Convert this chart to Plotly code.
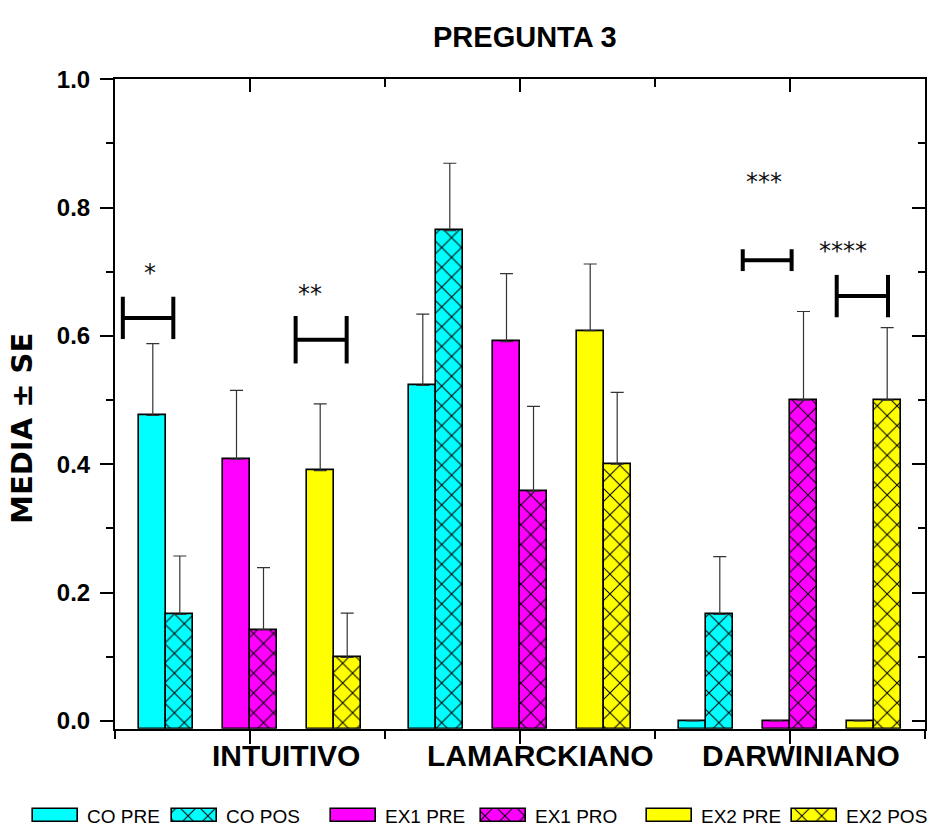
import plotly.graph_objects as go

# ---------------- data ----------------
categories = ["INTUITIVO", "LAMARCKIANO", "DARWINIANO"]
series_names = ["CO PRE", "CO POS", "EX1 PRE", "EX1 PRO", "EX2 PRE", "EX2 POS"]
co_pre = [0.476, 0.523, 0.0]
co_pos = [0.166, 0.764, 0.166]
ex1_pre = [0.408, 0.591, 0.0]
ex1_pro = [0.142, 0.358, 0.500]
ex2_pre = [0.390, 0.608, 0.0]
ex2_pos = [0.099, 0.400, 0.500]
co_pre_se = [0.112, 0.111, 0.0]
co_pos_se = [0.091, 0.105, 0.090]
ex1_pre_se = [0.107, 0.106, 0.0]
ex1_pro_se = [0.097, 0.132, 0.138]
ex2_pre_se = [0.104, 0.104, 0.0]
ex2_pos_se = [0.069, 0.112, 0.113]
y_ticks = [0.0, 0.2, 0.4, 0.6, 0.8, 1.0]

# significance brackets (x in category units, y in data units)
sig_labels = ["*", "**", "***", "****"]
sig_x0 = [-0.471, 0.169, 1.825, 2.173]
sig_x1 = [-0.284, 0.358, 2.006, 2.363]
sig_y = [0.628, 0.594, 0.718, 0.662]
sig_half = [0.033, 0.037, 0.017, 0.033]
sig_label_x = [-0.37, 0.222, 1.905, 2.196]
sig_label_y = [0.698, 0.665, 0.839, 0.732]

# ---------------- style / layout ----------------
W, H = 935, 838
PLOT_L, PLOT_R, PLOT_T, PLOT_B = 115, 925, 66.7, 731.3
YMIN, YMAX = -0.0122, 1.0
colors = ["#00FFFF", "#00FFFF", "#FF00FF", "#FF00FF", "#FFFF00", "#FFFF00"]
hatched = [False, True, False, True, False, True]
offsets = [-0.41, -0.31, -0.10, 0.0, 0.21, 0.31]
BAR_W = 0.1
FONT = "Liberation Sans, Arial, sans-serif"

values = [co_pre, co_pos, ex1_pre, ex1_pro, ex2_pre, ex2_pos]
errors = [co_pre_se, co_pos_se, ex1_pre_se, ex1_pro_se, ex2_pre_se, ex2_pos_se]
xpos = list(range(len(categories)))


def marker_for(color, hatch):
    m = dict(color=color, line=dict(color="black", width=1.6))
    if hatch:
        m["pattern"] = dict(shape="x", fgcolor="black", fgopacity=1,
                            size=14, solidity=0.14)
    return m


fig = go.Figure()
for name, vals, se, col, hat, off in zip(series_names, values, errors, colors, hatched, offsets):
    fig.add_trace(go.Bar(
        x=xpos, y=[v - YMIN for v in vals], base=YMIN, name=name,
        width=BAR_W, offset=off, marker=marker_for(col, hat),
        error_y=dict(type="data", symmetric=False, array=se,
                     arrayminus=[0] * len(se), color="#333333",
                     thickness=1.2, width=6.5),
        showlegend=False, xaxis="x", yaxis="y",
    ))

# dummy trace for mirrored (inside-tick) axes
fig.add_trace(go.Scatter(x=[None], y=[None], xaxis="x3", yaxis="y3",
                         showlegend=False, hoverinfo="skip"))

# custom legend swatches on a pixel-space helper axis
LEG_X = [33, 172, 331, 481, 647, 792]
SW_W, SW_H, LEG_Y = 45, 14, 820
for name, col, hat, lx in zip(series_names, colors, hatched, LEG_X):
    fig.add_trace(go.Bar(
        x=[lx + SW_W / 2], y=[SW_H], base=H - LEG_Y - SW_H / 2, width=SW_W,
        marker=marker_for(col, hat), xaxis="x2", yaxis="y2",
        showlegend=False, hoverinfo="skip"))

shapes = []
annotations = []
for x0, x1, y, hh in zip(sig_x0, sig_x1, sig_y, sig_half):
    line = dict(color="black", width=4)
    shapes.append(dict(type="line", xref="x", yref="y", x0=x0, x1=x1, y0=y, y1=y, line=line))
    shapes.append(dict(type="line", xref="x", yref="y", x0=x0, x1=x0, y0=y - hh, y1=y + hh, line=line))
    shapes.append(dict(type="line", xref="x", yref="y", x0=x1, x1=x1, y0=y - hh, y1=y + hh, line=line))
for lab, lx, ly in zip(sig_labels, sig_label_x, sig_label_y):
    annotations.append(dict(text=lab, x=lx, y=ly, xref="x", yref="y", showarrow=False,
                            font=dict(family="DejaVu Sans", size=24, color="#111111"),
                            xanchor="center", yanchor="middle"))

label_shift = [36, 20, 11]
for i, (cat, sh) in enumerate(zip(categories, label_shift)):
    annotations.append(dict(text=cat, x=i, xref="x", y=1 - 759 / H, yref="paper",
                            xshift=sh, showarrow=False, xanchor="center", yanchor="middle",
                            font=dict(family=FONT, size=30, color="black", weight="bold")))

for name, lx in zip(series_names, LEG_X):
    annotations.append(dict(text=name, x=(lx + SW_W + 7) / W, xref="paper",
                            y=1 - (LEG_Y + 1) / H, yref="paper", showarrow=False,
                            xanchor="left", yanchor="middle",
                            font=dict(family=FONT, size=19, color="black")))

annotations.append(dict(text="PREGUNTA 3", x=525 / W, y=1 - 23.5 / H, xref="paper", yref="paper",
                        showarrow=False, xanchor="center", yanchor="middle",
                        font=dict(family=FONT, size=29, color="black", weight="bold")))
annotations.append(dict(text="MEDIA ± SE", x=22.5 / W, y=1 - 424 / H, xref="paper", yref="paper",
                        showarrow=False, textangle=-90, xanchor="center", yanchor="middle",
                        font=dict(family="DejaVu Sans", size=29, color="black", weight="bold")))

xdom = [PLOT_L / W, PLOT_R / W]
ydom = [1 - PLOT_B / H, 1 - PLOT_T / H]
xr = [-0.5, len(categories) - 0.5]
minor_x = [i - 0.5 for i in range(len(categories) + 1)]

fig.update_layout(
    width=W, height=H, margin=dict(l=0, r=0, t=0, b=0),
    paper_bgcolor="white", plot_bgcolor="rgba(0,0,0,0)",
    barmode="overlay", bargap=0,
    shapes=shapes, annotations=annotations,
    xaxis=dict(domain=xdom, range=xr, tickmode="array", tickvals=xpos,
               showticklabels=False, ticks="outside", ticklen=13, tickwidth=2,
               tickcolor="black", showline=True, linecolor="black", linewidth=2,
               showgrid=False, zeroline=False,
               minor=dict(tickmode="array", tickvals=minor_x, ticks="outside",
                          ticklen=8, tickwidth=2, tickcolor="black", showgrid=False)),
    yaxis=dict(domain=ydom, range=[YMIN, YMAX], tickmode="array", tickvals=y_ticks,
               tickformat=".1f", ticks="outside", ticklen=13, tickwidth=2,
               tickcolor="black", showline=True, linecolor="black", linewidth=2,
               showgrid=False, zeroline=False, ticklabelstandoff=5,
               tickfont=dict(family=FONT, size=24, color="black", weight="bold"),
               minor=dict(dtick=0.1, ticks="outside", ticklen=7, tickwidth=2,
                          tickcolor="black", showgrid=False)),
    xaxis3=dict(overlaying="x", anchor="y", side="top", range=xr, tickmode="array",
                tickvals=xpos, showticklabels=False, ticks="inside", ticklen=13,
                tickwidth=2, tickcolor="black", showline=True, linecolor="black",
                linewidth=2, showgrid=False, zeroline=False,
                minor=dict(tickmode="array", tickvals=minor_x, ticks="inside",
                           ticklen=8, tickwidth=2, tickcolor="black", showgrid=False)),
    yaxis3=dict(overlaying="y", anchor="x", side="right", range=[YMIN, YMAX],
                tickmode="array", tickvals=y_ticks, showticklabels=False,
                ticks="inside", ticklen=13, tickwidth=2, tickcolor="black",
                showline=True, linecolor="black", linewidth=2, showgrid=False,
                zeroline=False,
                minor=dict(dtick=0.1, ticks="inside", ticklen=7, tickwidth=2,
                           tickcolor="black", showgrid=False)),
    xaxis2=dict(domain=[0, 1], range=[0, W], visible=False, fixedrange=True),
    yaxis2=dict(domain=[0, 1], range=[0, H], visible=False, fixedrange=True, anchor="x2"),
)

fig.write_html("out.html")
